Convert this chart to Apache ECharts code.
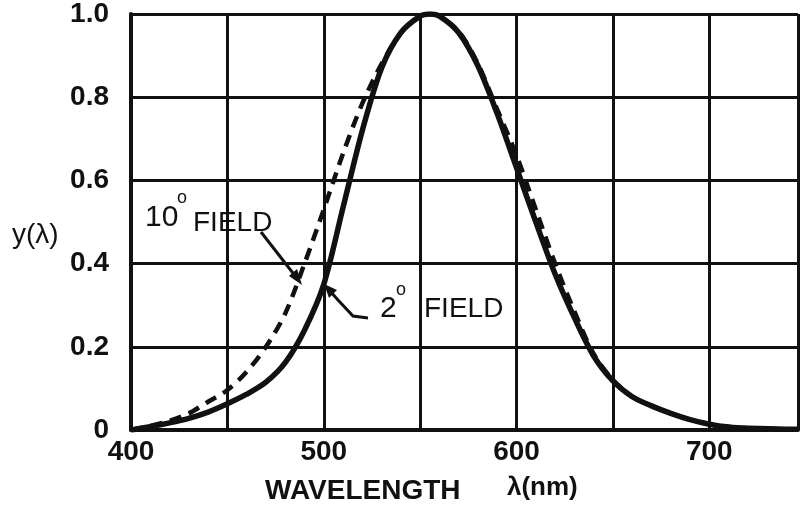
<!DOCTYPE html>
<html><head><meta charset="utf-8">
<script src="https://cdn.jsdelivr.net/npm/echarts@6/dist/echarts.min.js"></script>
<style>html,body{margin:0;padding:0;background:#fff}#c{width:801px;height:512px}</style>
</head><body><div id="c"></div>
<script>
const wavelengths = [400,410,420,430,440,450,460,470,480,490,500,510,520,530,540,550,555,560,570,580,590,600,610,620,630,640,650,660,670,680,690,700,710,720,740,746];
const field2 = [0,0.008,0.017,0.028,0.043,0.063,0.086,0.115,0.162,0.24,0.35,0.535,0.72,0.87,0.955,0.995,1.0,0.995,0.955,0.875,0.76,0.63,0.5,0.375,0.27,0.178,0.118,0.08,0.058,0.04,0.025,0.014,0.007,0.004,0.002,0.002];
const field10 = [0,0.01,0.022,0.04,0.068,0.096,0.14,0.2,0.28,0.4,0.53,0.665,0.785,0.88,0.955,0.995,1.0,0.995,0.958,0.88,0.77,0.66,0.53,0.4,0.285,0.183,0.12,0.08,0.058,0.04,0.025,0.014,0.007,0.004,0.002,0.002];
const xTicks = [400,500,600,700];
const yTicks = [0,0.2,0.4,0.6,0.8,1.0];

const FONT = "'Liberation Sans', Arial, sans-serif";
const chart = echarts.init(document.getElementById('c'), null, {renderer:'canvas'});
const pair = (xs, ys) => xs.map((x,i)=>[x, ys[i]]);
chart.setOption({
  backgroundColor:'#fff',
  animation:false,
  grid:{left:131, right:1, top:13, bottom:82},
  xAxis:{type:'value', min:400, max:746, interval:50,
    axisLine:{lineStyle:{color:'#111', width:4}},
    axisTick:{show:false},
    splitLine:{lineStyle:{color:'#111', width:3}},
    axisLabel:{margin:8, color:'#111', fontFamily:FONT, fontSize:28, fontWeight:'bold',
      formatter:v => xTicks.indexOf(v) >= 0 ? String(v) : ''}},
  yAxis:{type:'value', min:0, max:1.0, interval:0.2,
    axisLine:{show:true, lineStyle:{color:'#111', width:4}},
    axisTick:{show:false},
    splitLine:{lineStyle:{color:'#111', width:3}},
    axisLabel:{margin:22, color:'#111', fontFamily:FONT, fontSize:28, fontWeight:'bold', padding:[10,0,0,0],
      formatter:v => { const t = yTicks.find(a=>Math.abs(a-v)<1e-6); return t===undefined?'':(t===0?'0':t.toFixed(1)); }}},
  series:[
    {type:'line', name:'10° FIELD', data:pair(wavelengths, field10), smooth:0.3, symbol:'none',
      lineStyle:{color:'#111', width:4.5, type:[12,8]}, z:3},
    {type:'line', name:'2° FIELD', data:pair(wavelengths, field2), smooth:0.3, symbol:'none',
      lineStyle:{color:'#111', width:5.5}, z:4}
  ],
  graphic:[
    {type:'text', left:12, top:221, style:{text:'y(λ)', font:'28px '+FONT, fill:'#111'}},
    {type:'text', left:265, top:477, style:{text:'WAVELENGTH', font:'bold 28px '+FONT, fill:'#111'}},
    {type:'text', left:507, top:475, style:{text:'λ(nm)', font:'bold 26px '+FONT, fill:'#111'}},
    {type:'text', left:145, top:203, style:{text:'10', font:'30px '+FONT, fill:'#111'}},
    {type:'text', left:177, top:189, style:{text:'o', font:'18px '+FONT, fill:'#111'}},
    {type:'text', left:193, top:209, style:{text:'FIELD', font:'28px '+FONT, fill:'#111'}},
    {type:'text', left:380, top:294, style:{text:'2', font:'30px '+FONT, fill:'#111'}},
    {type:'text', left:396, top:281, style:{text:'o', font:'18px '+FONT, fill:'#111'}},
    {type:'text', left:424, top:295, style:{text:'FIELD', font:'28px '+FONT, fill:'#111'}},
    {type:'polyline', shape:{points:[[261,232],[296,277]]}, style:{stroke:'#111', lineWidth:3}, z:10},
    {type:'polygon', shape:{points:[[302,285],[289,276],[297,269]]}, style:{fill:'#111'}, z:10},
    {type:'polyline', shape:{points:[[368,318],[353,316],[338,300],[330,291]]}, style:{stroke:'#111', lineWidth:3, fill:null}, z:10},
    {type:'polygon', shape:{points:[[324,284],[337,290],[329,298]]}, style:{fill:'#111'}, z:10}
  ]
});
</script></body></html>
